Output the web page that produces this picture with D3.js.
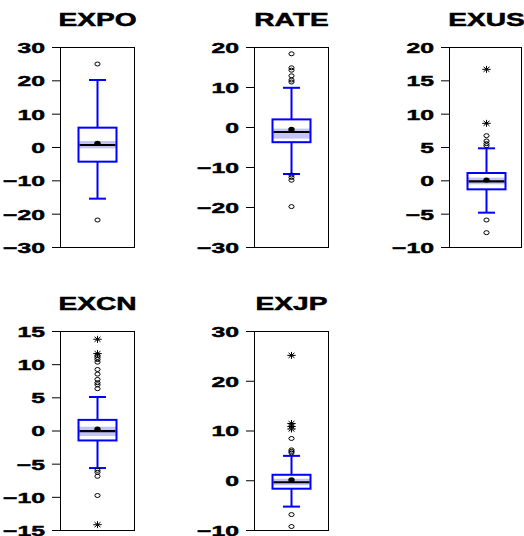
<!DOCTYPE html>
<html><head><meta charset="utf-8">
<script src="https://cdn.jsdelivr.net/npm/d3@7"></script>
<style>body{margin:0;background:#fff}svg{display:block}</style>
</head><body><svg id="c" width="524" height="536"></svg>
<script>
const panelNames = ["EXPO","RATE","EXUS","EXCN","EXJP"];
const yMin = [-30,-30,-10,-15,-10];
const yMax = [30,20,20,15,30];
const tickValues = [
  [-30,-20,-10,0,10,20,30],
  [-30,-20,-10,0,10,20],
  [-10,-5,0,5,10,15,20],
  [-15,-10,-5,0,5,10,15],
  [-10,0,10,20,30]
];
const q1 = [-4.4,-3.8,-1.35,-1.5,-1.7];
const medians = [0.6,-1.25,-0.15,-0.1,-0.4];
const q3 = [5.8,1.9,1.1,1.6,1.1];
const means = [1.1,-0.6,0.05,0.2,0.1];
const whiskerLow = [-15.5,-11.75,-4.85,-5.66,-5.3];
const whiskerHigh = [20.1,9.8,4.8,5.05,4.9];
const bandLow = [-0.4,-2.9,-0.6,-0.84,-1.0];
const bandHigh = [1.8,-0.4,0.4,0.57,0.3];
const outliers = [
  [24.9,-21.9],
  [18.3,14.8,14.2,12.8,11.75,11.25,-12.0,-12.6,-13.3,-19.9],
  [6.7,5.9,5.5,5.2,-5.95,-7.85],
  [11.3,11.0,10.7,10.3,9.2,8.5,7.7,7.2,6.9,6.3,-6.0,-6.3,-6.9,-9.8],
  [8.4,6.1,5.8,5.5,-6.9,-9.3]
];
const extremes = [
  [],
  [],
  [16.65,8.55],
  [13.75,11.6,-14.2],
  [25.1,11.4,10.8,10.3]
];

const svg = d3.select("#c");
const colX = [60,254,449];
const colW = [75,75,73];
const rowTop = [47,331];
const rowBottom = [247,530];
const titleY = [26,310];
const sxTick = 1.65, sxTitle = 1.52;
const boxW = 38, capW = 17;
const blue = "#0000ff";

panelNames.forEach((name,i)=>{
  const col = i<3 ? i : i-3;
  const row = i<3 ? 0 : 1;
  const x0 = colX[col], w = colW[col];
  const cx = x0 + 37.5;
  const y = d3.scaleLinear().domain([yMin[i],yMax[i]]).range([rowBottom[row],rowTop[row]]);
  const g = svg.append("g");

  // title
  g.append("text")
    .attr("transform",`translate(${x0+37.5},${titleY[row]}) scale(${sxTitle},1)`)
    .attr("text-anchor","middle")
    .attr("font-family","Liberation Sans, Arial, sans-serif")
    .attr("font-weight","bold").attr("font-size",18.5)
    .attr("stroke","#000").attr("stroke-width",0.5)
    .text(name);

  // axis
  const ax = g.append("g").attr("transform",`translate(${x0},0)`)
    .call(d3.axisLeft(y).tickValues(tickValues[i]).tickSize(8).tickPadding(7).tickFormat(d3.format("d")));
  ax.select(".domain").remove();
  ax.selectAll(".tick line").attr("stroke","#000").attr("stroke-width",1);
  ax.selectAll(".tick text")
    .attr("x",-15/sxTick)
    .attr("transform",`scale(${sxTick},1)`)
    .attr("dy","0.36em")
    .attr("fill","#000")
    .attr("stroke","#000").attr("stroke-width",0.45)
    .attr("font-family","Liberation Sans, Arial, sans-serif")
    .attr("font-weight","bold").attr("font-size",15);

  // frame
  g.append("rect").attr("x",x0+0.5).attr("y",rowTop[row]+0.5)
    .attr("width",w-1).attr("height",rowBottom[row]-rowTop[row])
    .attr("fill","none").attr("stroke","#000").attr("stroke-width",1);

  // whiskers
  [[q3[i],whiskerHigh[i]],[q1[i],whiskerLow[i]]].forEach(([a,b])=>{
    g.append("line").attr("x1",cx).attr("x2",cx).attr("y1",y(a)).attr("y2",y(b))
      .attr("stroke",blue).attr("stroke-width",2);
    g.append("line").attr("x1",cx-capW/2).attr("x2",cx+capW/2).attr("y1",y(b)).attr("y2",y(b))
      .attr("stroke",blue).attr("stroke-width",2);
  });

  // band
  g.append("rect").attr("x",cx-boxW/2).attr("width",boxW)
    .attr("y",y(bandHigh[i])).attr("height",y(bandLow[i])-y(bandHigh[i]))
    .attr("fill","#c4c4f4");

  // box
  g.append("rect").attr("x",cx-boxW/2).attr("width",boxW)
    .attr("y",y(q3[i])).attr("height",y(q1[i])-y(q3[i]))
    .attr("fill","none").attr("stroke",blue).attr("stroke-width",2);

  // median
  g.append("line").attr("x1",cx-boxW/2+1).attr("x2",cx+boxW/2-1)
    .attr("y1",y(medians[i])).attr("y2",y(medians[i]))
    .attr("stroke","#000").attr("stroke-width",2.2);

  // mean
  g.append("ellipse").attr("cx",cx).attr("cy",y(means[i])).attr("rx",3.2).attr("ry",2.6).attr("fill","#000");

  // outliers
  g.selectAll(".o").data(outliers[i]).enter().append("ellipse")
    .attr("cx",cx).attr("cy",d=>y(d)).attr("rx",2.6).attr("ry",2)
    .attr("fill","none").attr("stroke","#000").attr("stroke-width",1);

  // extremes (asterisks)
  const r = 3.5, rx = 4.2;
  g.selectAll(".s").data(extremes[i]).enter().append("path")
    .attr("transform",d=>`translate(${cx},${y(d)})`)
    .attr("d",`M${-rx},0H${rx}M0,${-r}V${r}M${-rx*0.7},${-r*0.7}L${rx*0.7},${r*0.7}M${-rx*0.7},${r*0.7}L${rx*0.7},${-r*0.7}`)
    .attr("stroke","#000").attr("stroke-width",1).attr("fill","none");
});
</script></body></html>
